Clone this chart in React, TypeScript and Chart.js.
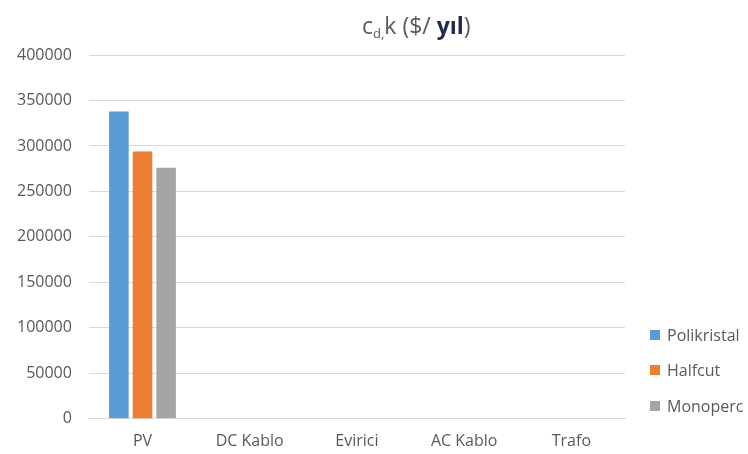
import React, { useEffect, useRef } from "react";
import { Chart, registerables } from "chart.js";

Chart.register(...registerables);

const categories = ["PV", "DC Kablo", "Evirici", "AC Kablo", "Trafo"];
const polikristal = [338000, 0, 0, 0, 0];
const halfcut = [294000, 0, 0, 0, 0];
const monoperc = [276000, 0, 0, 0, 0];
const seriesNames = ["Polikristal", "Halfcut", "Monoperc"];
const seriesColors = ["#5b9bd5", "#ed7d31", "#a5a5a5"];
const yTicks = [0, 50000, 100000, 150000, 200000, 250000, 300000, 350000, 400000];

const FONT = "'Open Sans', 'Liberation Sans', sans-serif";

const titlePlugin = {
  id: "subTitle",
  afterDraw(chart: any) {
    const ctx = chart.ctx;
    ctx.save();
    ctx.fillStyle = "#595959";
    ctx.textBaseline = "alphabetic";
    const y = 34;
    let x = 362;
    ctx.font = `23px ${FONT}`;
    ctx.fillText("c", x, y);
    x += ctx.measureText("c").width;
    ctx.font = `13px ${FONT}`;
    ctx.fillText("d,", x, y + 4);
    x += ctx.measureText("d,").width;
    ctx.font = `23px ${FONT}`;
    ctx.fillText("k ($/ ", x, y);
    x += ctx.measureText("k ($/ ").width;
    ctx.fillStyle = "#1f2a50";
    ctx.font = `bold 23px ${FONT}`;
    ctx.fillText("yıl", x, y);
    x += ctx.measureText("yıl").width;
    ctx.fillStyle = "#595959";
    ctx.font = `23px ${FONT}`;
    ctx.fillText(")", x, y);
    ctx.restore();
  },
};

const legendPlugin = {
  id: "sideLegend",
  afterDraw(chart: any) {
    const ctx = chart.ctx;
    const rows = [335, 370, 406];
    ctx.save();
    ctx.font = `16px ${FONT}`;
    ctx.textBaseline = "middle";
    chart.data.datasets.forEach((ds: any, i: number) => {
      const cy = rows[i];
      ctx.fillStyle = ds.backgroundColor;
      ctx.fillRect(650, cy - 5, 10, 10);
      ctx.fillStyle = "#595959";
      ctx.fillText(ds.label, 667, cy + 1);
    });
    ctx.restore();
  },
};

export default function App() {
  const ref = useRef<HTMLCanvasElement>(null);
  useEffect(() => {
    document.body.style.margin = "0";
    const chart = new Chart(ref.current!, {
      type: "bar",
      data: {
        labels: categories,
        datasets: seriesNames.map((name, i) => ({
          label: name,
          data: [polikristal, halfcut, monoperc][i],
          backgroundColor: seriesColors[i],
        })),
      },
      options: {
        animation: false,
        responsive: false,
        layout: { padding: { top: 55, right: 123, left: 0, bottom: -10 } },
        datasets: { bar: { categoryPercentage: 0.66, barPercentage: 0.83 } },
        scales: {
          x: {
            grid: { display: false, drawTicks: false },
            border: { color: "#d9d9d9" },
            ticks: { color: "#595959", font: { family: FONT, size: 16 }, padding: 13 },
          },
          y: {
            min: 0,
            max: 400000,
            afterBuildTicks: (axis: any) => {
              axis.ticks = yTicks.map((v) => ({ value: v }));
            },
            grid: { color: "#d9d9d9", drawTicks: false },
            border: { display: false },
            ticks: {
              color: "#595959",
              font: { family: FONT, size: 16 },
              padding: 17,
              callback: (v: any) => String(v),
            },
          },
        },
        plugins: {
          title: { display: false },
          tooltip: { enabled: false },
          legend: { display: false },
        },
      },
      plugins: [titlePlugin, legendPlugin],
    } as any);
    return () => chart.destroy();
  }, []);
  return <canvas ref={ref} width={748} height={454} style={{ display: "block" }} />;
}
